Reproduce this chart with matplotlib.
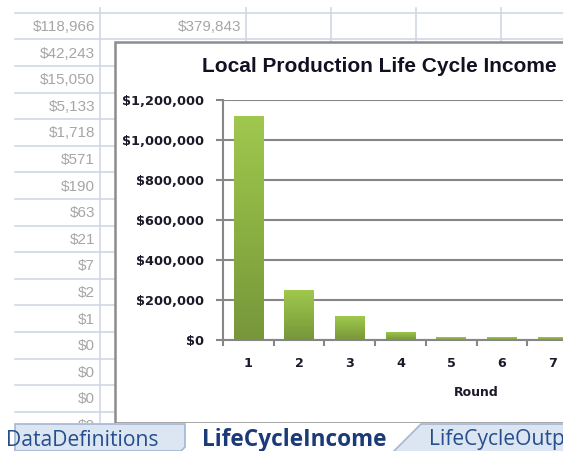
import numpy as np
import matplotlib
matplotlib.use('Agg')
import matplotlib.pyplot as plt
from matplotlib.patches import Rectangle, Polygon
from matplotlib.colors import LinearSegmentedColormap

# ---------------- data ----------------
rounds = [1, 2, 3, 4, 5, 6, 7]
income = [1120000, 248000, 118966, 42243, 13000, 13000, 13000]
y_ticks = [0, 200000, 400000, 600000, 800000, 1000000, 1200000]
y_tick_labels = ['$0', '$200,000', '$400,000', '$600,000', '$800,000',
                 '$1,000,000', '$1,200,000']
title = 'Local Production Life Cycle Income'
x_label = 'Round'

sheet_col_a = ['$118,966', '$42,243', '$15,050', '$5,133', '$1,718', '$571',
               '$190', '$63', '$21', '$7', '$2', '$1', '$0', '$0', '$0', '$0']
sheet_col_b = ['$379,843']
sheet_tabs = ['DataDefinitions', 'LifeCycleIncome', 'LifeCycleOutput']

# ---------------- figure ----------------
W, H = 575, 451
fig = plt.figure(figsize=(W / 100, H / 100), dpi=100)
fig.patch.set_facecolor('white')

bg = fig.add_axes([0, 0, 1, 1], zorder=0)
bg.set_xlim(0, W)
bg.set_ylim(H, 0)
bg.axis('off')

grid_c = '#d0d7e5'
row0, row_h = 12.7, 26.6
for k in range(17):
    y = row0 + k * row_h
    if y < 423:
        bg.plot([15, 563], [y, y], color=grid_c, lw=1.2, zorder=1)
bg.plot([100, 100], [8, 423], color=grid_c, lw=1.2, zorder=1)
for x in [246, 331, 416, 501]:
    bg.plot([x, x], [8, 42], color=grid_c, lw=1.2, zorder=1)

cell_clip = Rectangle((0, 0), W, 423, transform=bg.transData)
for k, s in enumerate(sheet_col_a):
    t = bg.text(95, row0 + (k + 0.5) * row_h + 1, s, ha='right', va='center',
                fontsize=11, color='#a6a6a6', family='Liberation Sans', zorder=2)
    t.set_clip_path(cell_clip)
for k, s in enumerate(sheet_col_b):
    bg.text(241, row0 + (k + 0.5) * row_h + 1, s, ha='right', va='center',
            fontsize=11, color='#a6a6a6', family='Liberation Sans', zorder=2)

# chart area
bg.add_patch(Rectangle((115, 42), 600, 381, facecolor='white',
                       edgecolor='#8c8c8c', lw=1.8, zorder=3))
bg.text(379, 66, title, ha='center', va='center', fontsize=15,
        fontweight='bold', family='Liberation Sans', color='#111122', zorder=4)

# tabs
bg.add_patch(Rectangle((0, 423), W, 30, facecolor='white', edgecolor='none', zorder=5))
tab_fill, tab_edge = '#dce6f3', '#a3b7d2'
bg.add_patch(Polygon([(15, 451), (15, 424), (185, 424), (185, 447), (181, 451)],
                     closed=True, facecolor=tab_fill, edgecolor=tab_edge, lw=1.2, zorder=6))
bg.add_patch(Polygon([(393, 452), (421, 424), (565, 424), (565, 452)],
                     closed=True, facecolor=tab_fill, edgecolor=tab_edge, lw=1.2, zorder=6))
t0 = bg.text(6, 440, sheet_tabs[0], ha='left', va='center', fontsize=15.2,
             family='Open Sans', color='#254e8c', zorder=7)
t0.set_clip_path(Rectangle((15, 420), 170, 32, transform=bg.transData))
bg.text(202, 440, sheet_tabs[1], ha='left', va='center', fontsize=16.3,
        fontweight='bold', family='Open Sans', color='#1b3b78', zorder=7)
bg.text(429, 440, sheet_tabs[2], ha='left', va='center', fontsize=15.2,
        family='Open Sans', color='#254e8c', zorder=7)

# ---------------- chart axes ----------------
x_left, x_right, y_bot, y_top = 223, 730, 340, 100
ax = fig.add_axes([x_left / W, (H - y_bot) / H, (x_right - x_left) / W,
                   (y_bot - y_top) / H], zorder=2)
ax.patch.set_alpha(0)

axis_c = '#868686'
bars = ax.bar(rounds, income, width=0.58, color='none', edgecolor='none', zorder=3)
cmap = LinearSegmentedColormap.from_list('g', ['#77963b', '#8bb042', '#a0c84e'])
grad = np.linspace(0, 1, 256).reshape(-1, 1)
for b in bars:
    x0, y0 = b.get_x(), b.get_y()
    w, h = b.get_width(), b.get_height()
    im = ax.imshow(grad, extent=(x0, x0 + w, y0, y0 + h), origin='lower',
                   aspect='auto', cmap=cmap, zorder=3)
    im.set_clip_path(b)

ax.set_xlim(0.5, 10.5)
ax.set_ylim(0, 1200000)
ax.set_yticks(y_ticks)
ax.set_yticklabels(y_tick_labels)
ax.yaxis.grid(True, color=axis_c, lw=1.5)
ax.set_axisbelow(True)
for s in ['top', 'right']:
    ax.spines[s].set_visible(False)
for s in ['left', 'bottom']:
    ax.spines[s].set_color(axis_c)
    ax.spines[s].set_linewidth(1.5)

ax.set_xticks(np.arange(0.5, 11, 1.0))
ax.set_xticklabels([])
ax.set_xticks(rounds, minor=True)
ax.set_xticklabels([str(r) for r in rounds], minor=True)
ax.tick_params(axis='x', which='major', length=4.5, width=1.5, color=axis_c,
               direction='out')
ax.tick_params(axis='x', which='minor', length=0, pad=12.5, labelsize=9.2,
               labelcolor='#1a1a2a')
ax.tick_params(axis='y', length=5, width=1.5, color=axis_c, direction='out',
               labelsize=9.3, labelcolor='#1a1a2a', pad=8.5)
for lab in ax.get_yticklabels() + ax.get_xticklabels(minor=True):
    lab.set_fontweight('bold')
    lab.set_family('DejaVu Sans')

ax.set_xlabel(x_label, fontsize=9, fontweight='bold', color='#1a1a2a',
              labelpad=11.5)

# white strip beyond screenshot edge
fig.add_artist(Rectangle((563 / W, 0), 12 / W, 1, transform=fig.transFigure,
                         facecolor='white', edgecolor='none', zorder=100))

fig.savefig('out.png', dpi=100, facecolor='white')
